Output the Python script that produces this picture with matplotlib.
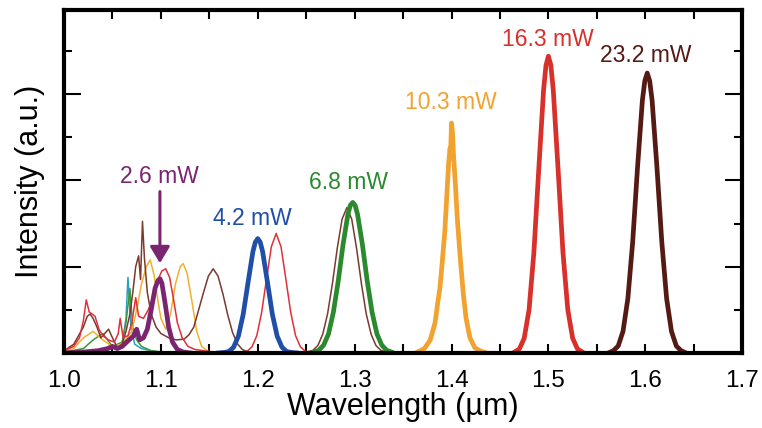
import matplotlib.pyplot as plt
from matplotlib.ticker import MultipleLocator, FormatStrFormatter

plt.rcParams['font.family'] = ['Liberation Sans', 'DejaVu Sans']

# residual (thin) spectra
red_thin_wl = [1.000, 1.010, 1.016, 1.020, 1.023, 1.026, 1.029, 1.032, 1.036, 1.040,
               1.046, 1.052, 1.056, 1.058, 1.061, 1.066, 1.070, 1.074, 1.077, 1.082,
               1.087, 1.092, 1.097, 1.101, 1.105, 1.109, 1.113, 1.117, 1.122, 1.128,
               1.135, 1.150, 1.170, 1.184, 1.189, 1.194, 1.199, 1.204, 1.209, 1.214,
               1.219, 1.224, 1.229, 1.234, 1.239, 1.244, 1.249, 1.254, 1.262]
red_thin_int = [0.05, 0.15, 0.35, 0.75, 1.23, 0.95, 0.90, 0.85, 0.55, 0.40,
                0.30, 0.25, 0.45, 0.80, 0.35, 0.40, 0.70, 1.28, 0.85, 0.80,
                1.00, 1.30, 1.70, 1.90, 1.95, 1.75, 1.25, 0.70, 0.35, 0.15,
                0.08, 0.03, 0.01, 0.01, 0.04, 0.14, 0.40, 0.94, 1.71, 2.46,
                2.77, 2.46, 1.71, 0.94, 0.40, 0.14, 0.04, 0.01, 0.0]

brown_thin_wl = [1.000, 1.010, 1.015, 1.020, 1.024, 1.027, 1.030, 1.034, 1.038, 1.042,
                 1.046, 1.050, 1.055, 1.060, 1.064, 1.068, 1.071, 1.074, 1.077, 1.079,
                 1.081, 1.083, 1.086, 1.090, 1.095, 1.100, 1.108, 1.116, 1.124, 1.129,
                 1.134, 1.139, 1.144, 1.149, 1.154, 1.159, 1.164, 1.169, 1.174, 1.179,
                 1.184, 1.189, 1.200, 1.240, 1.250, 1.257, 1.262, 1.267, 1.272, 1.277,
                 1.282, 1.287, 1.292, 1.297, 1.302, 1.307, 1.312, 1.317, 1.322, 1.327,
                 1.332, 1.340]
brown_thin_int = [0.05, 0.20, 0.40, 0.60, 0.85, 0.90, 0.80, 0.60, 0.35, 0.45,
                  0.55, 0.35, 0.12, 0.20, 0.50, 0.90, 1.40, 2.00, 2.25, 1.70,
                  3.05, 2.20, 1.40, 0.90, 0.60, 0.45, 0.35, 0.30, 0.32, 0.42,
                  0.60, 1.00, 1.40, 1.78, 1.95, 1.78, 1.37, 0.88, 0.47, 0.21,
                  0.08, 0.03, 0.01, 0.01, 0.02, 0.06, 0.17, 0.43, 0.90, 1.60,
                  2.42, 3.10, 3.37, 3.10, 2.42, 1.60, 0.90, 0.43, 0.17, 0.06,
                  0.02, 0.0]

orange_thin_wl = [1.000, 1.010, 1.020, 1.030, 1.040, 1.050, 1.060, 1.070, 1.075, 1.080,
                  1.085, 1.089, 1.093, 1.097, 1.100, 1.105, 1.110, 1.115, 1.120, 1.123,
                  1.127, 1.132, 1.137, 1.142, 1.150]
orange_thin_int = [0.02, 0.10, 0.35, 0.50, 0.30, 0.15, 0.20, 0.50, 1.00, 1.60,
                   2.00, 2.16, 1.80, 1.20, 0.80, 0.55, 0.90, 1.60, 2.00, 2.07,
                   1.85, 1.20, 0.50, 0.15, 0.02]

green_thin_wl = [1.000, 1.020, 1.030, 1.040, 1.045, 1.050, 1.060, 1.064, 1.068, 1.071,
                 1.075, 1.080, 1.090, 1.100]
green_thin_int = [0.02, 0.10, 0.30, 0.45, 0.30, 0.15, 0.25, 0.70, 1.49, 0.60,
                  0.30, 0.15, 0.05, 0.02]

teal_thin_wl = [1.000, 1.030, 1.050, 1.060, 1.064, 1.066, 1.069, 1.073, 1.080, 1.090,
                1.100, 1.120]
teal_thin_int = [0.01, 0.05, 0.10, 0.20, 0.80, 1.75, 0.60, 0.20, 0.10, 0.05,
                 0.02, 0.0]

# soliton spectra (thick), one per pump power
purple_wl = [1.000, 1.020, 1.035, 1.045, 1.050, 1.055, 1.060, 1.067, 1.072, 1.075,
             1.078, 1.082, 1.086, 1.090, 1.094, 1.097, 1.099, 1.101, 1.104, 1.108,
             1.112, 1.117, 1.123, 1.130]
purple_int = [0.0, 0.02, 0.05, 0.10, 0.15, 0.10, 0.15, 0.30, 0.40, 0.55,
              0.30, 0.35, 0.55, 1.00, 1.50, 1.68, 1.72, 1.62, 1.20, 0.60,
              0.25, 0.08, 0.02, 0.0]

blue_wl = [1.160, 1.165, 1.170, 1.175, 1.180, 1.185, 1.190, 1.195, 1.1975, 1.200,
           1.2025, 1.205, 1.210, 1.215, 1.220, 1.225, 1.230, 1.235, 1.240]
blue_int = [0.0, 0.01, 0.03, 0.13, 0.39, 0.90, 1.64, 2.35, 2.57, 2.65,
            2.57, 2.35, 1.64, 0.90, 0.39, 0.13, 0.03, 0.01, 0.0]

green_wl = [1.258, 1.263, 1.268, 1.273, 1.278, 1.283, 1.288, 1.293, 1.2955, 1.298,
            1.3005, 1.303, 1.308, 1.313, 1.318, 1.323, 1.328, 1.333, 1.338]
green_int = [0.02, 0.06, 0.18, 0.44, 0.94, 1.66, 2.51, 3.21, 3.42, 3.49,
             3.42, 3.21, 2.51, 1.66, 0.94, 0.44, 0.18, 0.06, 0.02]

orange_wl = [1.365, 1.372, 1.378, 1.383, 1.386, 1.388, 1.390, 1.393, 1.395, 1.397,
             1.3985, 1.399, 1.3995, 1.400, 1.401, 1.402, 1.404, 1.406, 1.409, 1.412,
             1.415, 1.419, 1.424, 1.430, 1.436]
orange_int = [0.02, 0.10, 0.30, 0.70, 1.20, 1.50, 2.00, 2.80, 3.60, 4.40,
              4.75, 4.55, 5.00, 5.33, 5.10, 4.60, 3.90, 3.10, 2.20, 1.40,
              0.80, 0.35, 0.12, 0.04, 0.0]

red_wl = [1.465, 1.470, 1.475, 1.480, 1.485, 1.490, 1.495, 1.4975, 1.500, 1.5025,
          1.505, 1.510, 1.515, 1.520, 1.525, 1.530, 1.535]
red_int = [0.02, 0.09, 0.34, 1.00, 2.33, 4.25, 6.10, 6.67, 6.88, 6.67,
           6.10, 4.25, 2.33, 1.00, 0.34, 0.09, 0.02]

brown_wl = [1.562, 1.567, 1.572, 1.577, 1.582, 1.587, 1.592, 1.597, 1.5995, 1.602,
            1.6045, 1.607, 1.612, 1.617, 1.622, 1.627, 1.632, 1.637, 1.642]
brown_int = [0.0, 0.05, 0.16, 0.50, 1.26, 2.58, 4.31, 5.86, 6.31, 6.49,
             6.31, 5.86, 4.31, 2.58, 1.26, 0.50, 0.16, 0.05, 0.0]

power_labels = ["2.6 mW", "4.2 mW", "6.8 mW", "10.3 mW", "16.3 mW", "23.2 mW"]
label_x = [1.099, 1.194, 1.294, 1.399, 1.499, 1.600]
label_y = [4.09, 3.12, 3.95, 5.81, 7.26, 6.90]

c_purple = '#7b2470'
c_blue = '#1f4fa6'
c_green = '#2b8a2e'
c_orange = '#f2a22e'
c_red = '#d8302b'
c_brown = '#561a14'

fig = plt.figure(figsize=(7.62, 4.28), dpi=100)
ax = fig.add_axes([0.084, 0.1755, 0.89, 0.801])

thin = [(teal_thin_wl, teal_thin_int, '#2a9fc4'),
        (green_thin_wl, green_thin_int, '#3a9a3a'),
        (orange_thin_wl, orange_thin_int, '#f0b030'),
        (brown_thin_wl, brown_thin_int, '#7a3a30'),
        (red_thin_wl, red_thin_int, '#e0303a')]
for wl, inten, col in thin:
    ax.plot(wl, inten, color=col, lw=1.1)

thick = [(purple_wl, purple_int, c_purple),
         (blue_wl, blue_int, c_blue),
         (green_wl, green_int, c_green),
         (orange_wl, orange_int, c_orange),
         (red_wl, red_int, c_red),
         (brown_wl, brown_int, c_brown)]
for wl, inten, col in thick:
    ax.plot(wl, inten, color=col, lw=3.4, solid_joinstyle='round')

label_colors = [c_purple, c_blue, c_green, c_orange, c_red, c_brown]
for txt, x, y, col in zip(power_labels, label_x, label_y, label_colors):
    ax.text(x, y, txt, color=col, fontsize=16.5, ha='center', va='center')

# arrow pointing at the 2.6 mW soliton
ax.annotate('', xy=(1.099, 2.08), xytext=(1.099, 3.74),
            arrowprops=dict(arrowstyle='-|>,head_width=0.3,head_length=0.5',
                            mutation_scale=20, lw=2.2, color=c_purple,
                            shrinkA=0, shrinkB=0))

ax.set_xlim(1.0, 1.7)
ax.set_ylim(0, 7.95)
ax.xaxis.set_major_locator(MultipleLocator(0.1))
ax.xaxis.set_minor_locator(MultipleLocator(0.05))
ax.xaxis.set_major_formatter(FormatStrFormatter('%.1f'))
ax.yaxis.set_major_locator(MultipleLocator(2))
ax.yaxis.set_minor_locator(MultipleLocator(1))

ax.tick_params(which='both', direction='in', top=True, right=True, width=1.5)
ax.tick_params(axis='x', which='both', length=6.5, labelsize=17.5, pad=12)
ax.tick_params(axis='y', which='major', length=12, labelleft=False)
ax.tick_params(axis='y', which='minor', length=6)
for sp in ax.spines.values():
    sp.set_linewidth(3)

ax.set_xlabel('Wavelength (µm)', fontsize=22, labelpad=0)
ax.set_ylabel('Intensity (a.u.)', fontsize=22, labelpad=10)

fig.savefig('out.png', dpi=100)
